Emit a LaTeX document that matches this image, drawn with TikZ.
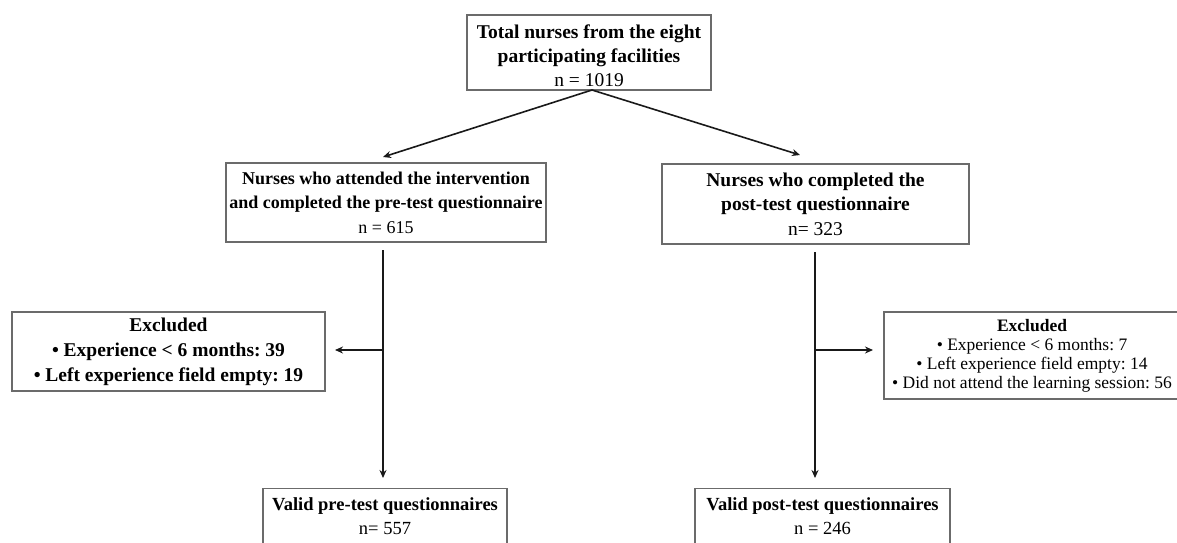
\documentclass[tikz,border=0pt]{standalone}
\usepackage{fontspec}
\setmainfont{Liberation Serif}
\usetikzlibrary{arrows.meta}
\frenchspacing
\tikzset{
  box/.style={draw=black!58, line width=1.2pt, align=center, inner sep=0pt},
  conn/.style={line width=1.6pt, draw=black!90},
  arr/.style={conn, -{Stealth[length=8pt,width=7pt]}},
}
\newcommand{\fs}[2]{\fontsize{#1}{#2}\selectfont}
\begin{document}
\begin{tikzpicture}[x=1pt,y=-1pt]
\clip (0,0) rectangle (1177,542);
\fill[white] (0,0) rectangle (1177,542);
% boxes
\node[box, minimum width=244pt, minimum height=75pt, font=\fs{19.5}{24}] (top) at (589,52.5)
  {\rule{0pt}{20pt}\textbf{Total nurses from the eight}\\\textbf{participating facilities}\\n = 1019};
\node[box, minimum width=320pt, minimum height=79pt, font=\fs{18}{24.5}] (pre) at (386,202.5)
  {\textbf{Nurses who attended the intervention}\\\textbf{and completed the pre-test questionnaire}\\n = 615};
\node[box, minimum width=307pt, minimum height=80pt, font=\fs{19.5}{24.5}] (post) at (815.5,204)
  {\textbf{Nurses who completed the}\\\textbf{post-test questionnaire}\\n= 323};
\node[box, minimum width=313pt, minimum height=79pt, font=\fs{19.5}{25}] (exl) at (168.5,351.5)
  {\textbf{Excluded}\\\textbf{\textbullet{} Experience < 6 months: 39}\\\textbf{\textbullet{} Left experience field empty: 19}};
\node[box, minimum width=296pt, minimum height=87pt, font=\fs{17.5}{19}] (exr) at (1032,355.5)
  {\textbf{Excluded}\\\textbullet{} Experience < 6 months: 7\\\textbullet{} Left experience field empty: 14\\\textbullet{} Did not attend the learning session: 56};
\node[box, minimum width=244pt, minimum height=56pt, anchor=north, font=\fs{18.5}{24}] (vpre) at (385,488)
  {\textbf{Valid pre-test questionnaires}\\n= 557};
\node[box, minimum width=255pt, minimum height=56pt, anchor=north, font=\fs{18.5}{24}] (vpost) at (822.5,488)
  {\textbf{Valid post-test questionnaires}\\n = 246};
% coordinates
\coordinate (split) at (592,90);
\coordinate (lt) at (383,157);
\coordinate (rt) at (800,155);
\coordinate (ls) at (383,250);
\coordinate (le) at (383,478);
\coordinate (lb) at (383,350);
\coordinate (lbe) at (335,350);
\coordinate (rs) at (815,252);
\coordinate (re) at (815,478);
\coordinate (rb) at (815,350);
\coordinate (rbe) at (873,350);
% connectors
\draw[arr] (split) -- (lt);
\draw[arr] (split) -- (rt);
\draw[arr] (ls) -- (le);
\draw[arr] (lb) -- (lbe);
\draw[arr] (rs) -- (re);
\draw[arr] (rb) -- (rbe);
\end{tikzpicture}
\end{document}
